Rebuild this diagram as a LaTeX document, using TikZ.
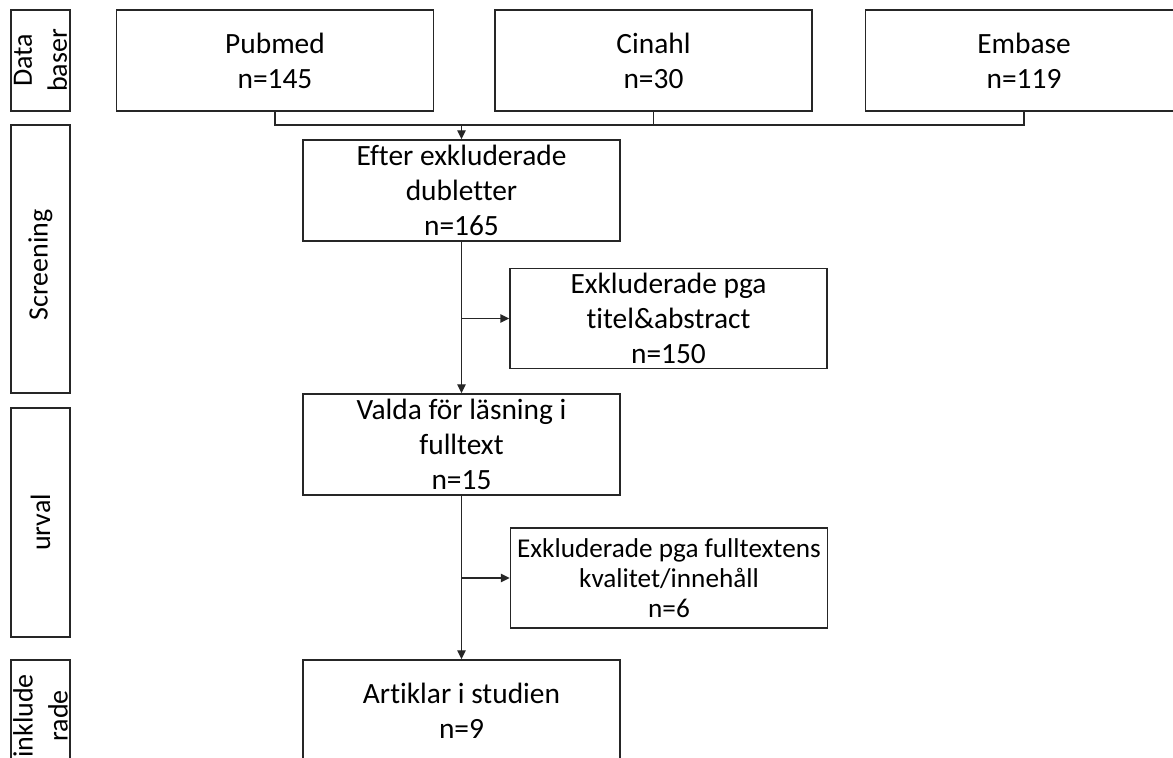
\documentclass[tikz,border=0pt]{standalone}
\usepackage{fontspec}
\setmainfont{Carlito}[Ligatures=NoCommon]
\usepackage{tikz}
\usetikzlibrary{arrows.meta, positioning}
\definecolor{lineBlack}{gray}{0.15}

\begin{document}
\begin{tikzpicture}[x=0.5pt, y=-0.5pt, >={Triangle[length=4.5pt, width=4.2pt]},
    box/.style={draw=lineBlack, line width=0.7pt, minimum width=158.5pt, minimum height=50.5pt,
        inner sep=0pt, align=center, font=\fontsize{14.7pt}{17.5pt}\selectfont},
    sideBox/.style={draw=lineBlack, line width=0.7pt, minimum width=29.5pt, inner sep=0pt},
    sideText/.style={rotate=90, align=center, inner sep=0pt, font=\fontsize{14pt}{17.5pt}\selectfont}]
    % ram och klippning
    \useasboundingbox (0,0) rectangle (1173,758);
    \clip (0,0) rectangle (1173,758);

    % vänster kolumn
    \node[sideBox, minimum height=50.5pt] (sideData) at (40.5, 60.5) {};
    \node[sideBox, minimum height=134pt] (sideScreen) at (40.5, 259) {};
    \node[sideBox, minimum height=114.5pt] (sideUrval) at (40.5, 522.5) {};
    \node[sideBox, minimum height=50.5pt] (sideIncl) at (40.5, 710.5) {};
    \node[sideText] (txtData) at (sideData) {Data\\baser};
    \node[sideText] (txtScreen) at (40.5, 265) {Screening};
    \node[sideText] (txtUrval) at (sideUrval) {urval};
    \node[sideText] (txtIncl) at (40.5, 716) {inklude\\rade};

    % databaser
    \node[box] (pubmed) at (275, 60.5) {Pubmed\\n=145};
    \node[box] (cinahl) at (653.5, 60.5) {Cinahl\\n=30};
    \node[box] (embase) at (1024, 60.5) {Embase\\n=119};

    % flödet
    \node[box] (efter) at (461.5, 190.5) {Efter exkluderade\\dubletter\\n=165};
    \node[box, minimum height=50pt] (exklTitel) at (668.5, 318.5) {Exkluderade pga\\titel\&abstract\\n=150};
    \node[box] (valda) at (461.5, 444.5) {Valda för läsning i\\fulltext\\n=15};
    \node[box, minimum height=50pt, font=\fontsize{13.6pt}{15pt}\selectfont] (exklFull) at (669, 578)
        {Exkluderade pga fulltextens\\kvalitet/innehåll\\n=6};
    \node[box] (artiklar) at (461.5, 710.5) {Artiklar i studien\\n=9};

    % kopplingar
    \coordinate (join) at (461.5, 125);
    \draw[lineBlack, line width=0.7pt] (pubmed.south) -- (pubmed.south |- join) -- (embase.south |- join) -- (embase.south);
    \draw[lineBlack, line width=0.7pt] (cinahl.south) -- (cinahl.south |- join);
    \draw[->, lineBlack, line width=0.7pt] (join) -- (efter.north);
    \draw[->, lineBlack, line width=0.7pt] (efter.south) -- (valda.north);
    \draw[->, lineBlack, line width=0.7pt] (efter.south |- exklTitel.west) -- (exklTitel.west);
    \draw[->, lineBlack, line width=0.7pt] (valda.south) -- (artiklar.north);
    \draw[->, lineBlack, line width=0.7pt] (valda.south |- exklFull.west) -- (exklFull.west);
\end{tikzpicture}
\end{document}
